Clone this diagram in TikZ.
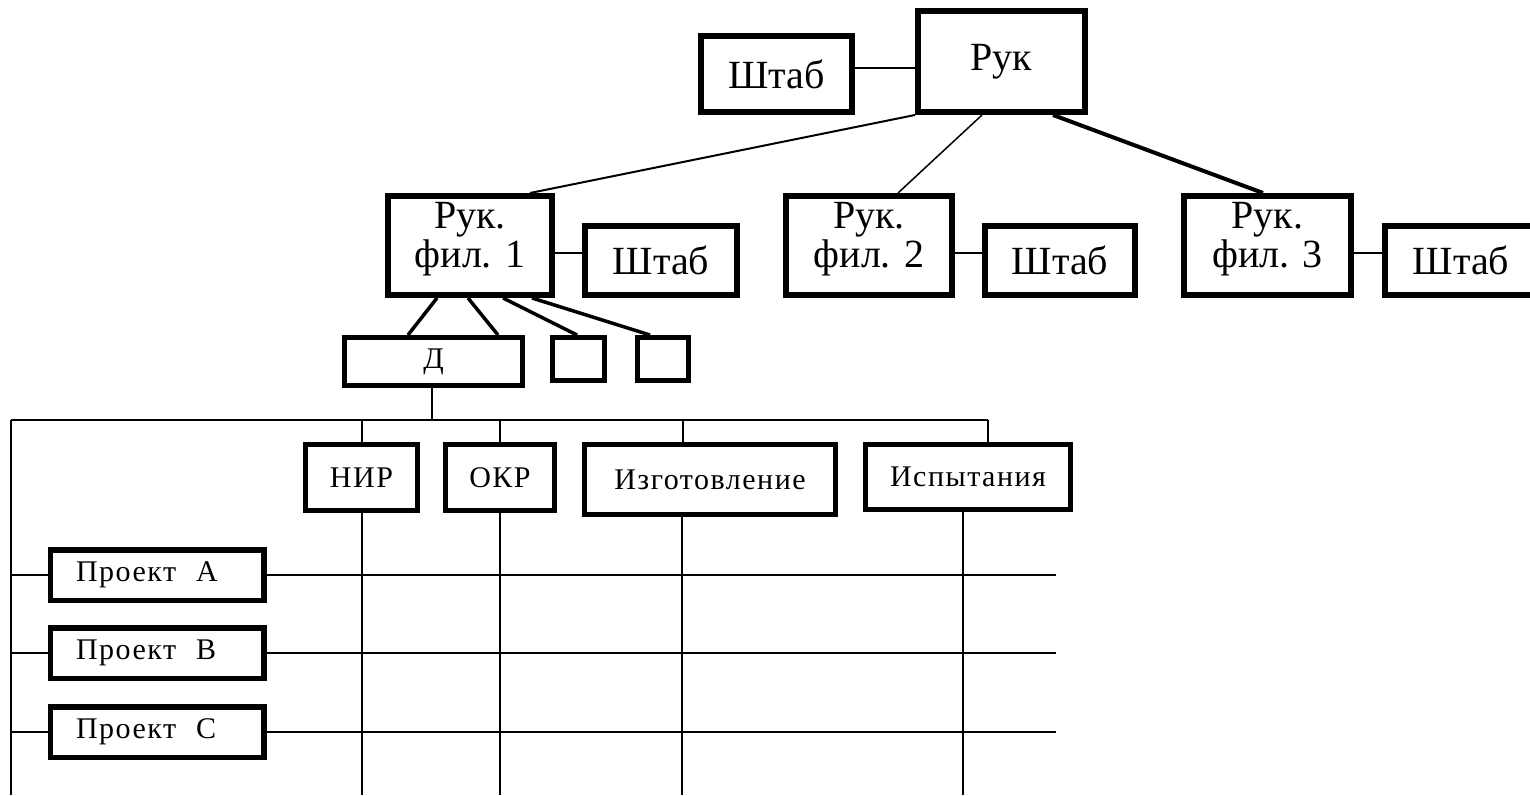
\documentclass[tikz,border=0pt]{standalone}
\usepackage{fontspec}
\setmainfont{Liberation Serif}
\newfontfamily\cellfont[LetterSpace=5]{Liberation Serif}
\begin{document}
\begin{tikzpicture}[x=1pt,y=-1pt,
  topbox/.style={draw, fill=white, line width=6pt, inner sep=0pt, align=center,
    font=\fontsize{40}{39}\selectfont},
  branchbox/.style={topbox, minimum height=99pt, text depth=21pt},
  lowbox/.style={draw, fill=white, line width=5pt, inner sep=0pt,
    font=\cellfont\fontsize{30}{30}\selectfont},
  projbox/.style={draw, fill=white, line width=5.5pt, inner ysep=0pt, inner xsep=25.75pt,
    text width=162pt, align=left, minimum height=50.5pt,
    font=\cellfont\fontsize{30}{30}\selectfont},
  conn/.style={line width=2pt},
  heavy/.style={line width=3.5pt},
]
\useasboundingbox (0,0) rectangle (1530,795);
\fill[white] (0,0) rectangle (1530,795);

% ---- helper coordinates for the matrix part
\coordinate (busL) at (11,420);
\coordinate (busR) at (988,420);
\coordinate (floor) at (0,795);
\coordinate (rowEnd) at (1056,0);

% ---- connectors (drawn first, boxes on top)
\draw[conn] (busL) -- (busR);
\draw[conn] (busL) -- (busL |- floor);

% ---- top level
\node[topbox, minimum width=151pt, minimum height=76pt] (shtab0) at (776.5,74) {Штаб};
\node[topbox, minimum width=167pt, minimum height=101pt] (ruk) at (1001.5,61.5) {Рук};

% ---- branches
\node[branchbox, minimum width=164pt] (fil1) at (470,245.5) {Рук.\\фил. 1};
\node[branchbox, minimum width=166pt] (fil2) at (869,245.5) {Рук.\\фил. 2};
\node[branchbox, minimum width=167pt] (fil3) at (1267.5,245.5) {Рук.\\фил. 3};
\node[topbox, minimum width=152pt, minimum height=69pt] (shtab1) at (661,260.5) {Штаб};
\node[topbox, minimum width=150pt, minimum height=69pt] (shtab2) at (1060,260.5) {Штаб};
\node[topbox, minimum width=152pt, minimum height=69pt] (shtab3) at (1461,260.5) {Штаб};

% ---- departments of branch 1
\node[lowbox, minimum width=178pt, minimum height=48pt] (dep) at (433.5,361.5) {Д};
\node[lowbox, minimum width=52pt, minimum height=43pt] (sq1) at (578.5,359) {};
\node[lowbox, minimum width=51pt, minimum height=43pt] (sq2) at (663,359) {};

% ---- functional columns
\node[lowbox, minimum width=112pt, minimum height=66pt] (nir) at (361.5,477.5) {НИР};
\node[lowbox, minimum width=109pt, minimum height=66pt] (okr) at (500,477.5) {ОКР};
\node[lowbox, minimum width=251pt, minimum height=70pt] (izg) at (710,479.5) {Изготовление};
\node[lowbox, minimum width=205pt, minimum height=65pt] (isp) at (968,477) {Испытания};

% ---- projects
\node[projbox] (pa) at (157,575) {Проект\ \ А};
\node[projbox] (pb) at (157,653) {Проект\ \ В};
\node[projbox] (pc) at (157,732) {Проект\ \ С};

% ---- top connectors
\draw[conn] ([yshift=6pt]shtab0.east) -- ([yshift=6pt]shtab0.east -| ruk.west);
\draw[conn] (ruk.south west) -- ([xshift=60pt]fil1.north);
\draw[line width=1.5pt] ([xshift=-19.5pt]ruk.south) -- ([xshift=29pt]fil2.north);
\draw[line width=4pt] ([xshift=51.5pt]ruk.south) -- ([xshift=-4.5pt]fil3.north);
\foreach \i in {1,2,3}
  \draw[conn] ([yshift=-7.5pt]fil\i.east) -- ([yshift=-7.5pt]fil\i.east -| shtab\i.west);

% ---- branch 1 to its departments
\draw[heavy] ([xshift=-33pt]fil1.south) -- ([xshift=-25.5pt]dep.north);
\draw[heavy] ([xshift=-2pt]fil1.south) -- ([xshift=64.5pt]dep.north);
\draw[heavy] ([xshift=33pt]fil1.south) -- ([xshift=-1.5pt]sq1.north);
\draw[heavy] ([xshift=62pt]fil1.south) -- ([xshift=-13pt]sq2.north);

% ---- department to the column bus
\draw[conn] ([xshift=-1.5pt]dep.south) -- ([xshift=-1.5pt]dep.south |- busL);
\draw[conn] (nir.north |- busL) -- (nir.north);
\draw[conn] (okr.north |- busL) -- (okr.north);
\draw[conn] ([xshift=-27pt]izg.north |- busL) -- ([xshift=-27pt]izg.north);
\draw[conn] (busR) -- (busR |- isp.north);

% ---- column lines down
\draw[conn] (nir.south) -- (nir.south |- floor);
\draw[conn] (okr.south) -- (okr.south |- floor);
\draw[conn] ([xshift=-28pt]izg.south) -- ([xshift=-28pt]izg.south |- floor);
\draw[conn] ([xshift=-5pt]isp.south) -- ([xshift=-5pt]isp.south |- floor);

% ---- project rows
\foreach \p in {pa,pb,pc}{
  \draw[conn] (\p.west) -- (\p.west -| busL);
  \draw[conn] (\p.east) -- (\p.east -| rowEnd);
}
\end{tikzpicture}
\end{document}
